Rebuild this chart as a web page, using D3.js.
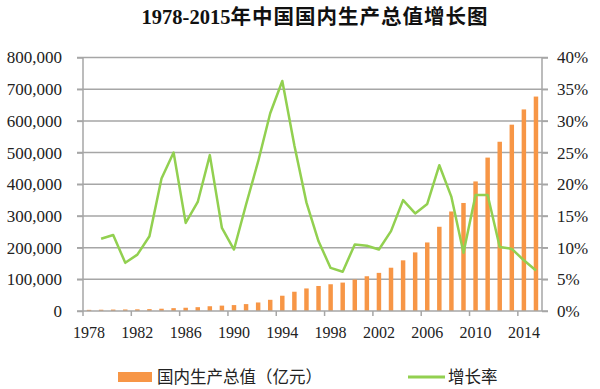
<!DOCTYPE html>
<html>
<head>
<meta charset="utf-8">
<script src="https://cdn.jsdelivr.net/npm/d3@7"></script>
<style>
  body { margin: 0; background: #fff; }
  svg { display: block; }
</style>
</head>
<body>
<svg id="chart" width="600" height="389"></svg>
<script>
// values
const years = d3.range(1978, 2016)
const gdp = [3645, 4063, 4546, 4892, 5323, 5963, 7208, 9016, 10275, 12059,
  15043, 16992, 18668, 21781, 26923, 35334, 48198, 60794, 71177, 78973,
  84402, 89677, 99215, 109655, 120333, 136565, 159878, 184937, 216314, 265810,
  314045, 340903, 408903, 484124, 534123, 588019, 636139, 676708]
const rateYears = d3.range(1979, 2016)
const rate = [11.4, 12.0, 7.6, 8.9, 11.8, 20.9, 25.0, 13.9, 17.2, 24.6,
  13.1, 9.7, 16.8, 23.6, 31.2, 36.3, 26.1, 17.1, 11.0, 6.8,
  6.2, 10.5, 10.3, 9.7, 12.6, 17.5, 15.4, 16.9, 23.0, 18.0,
  9.2, 18.3, 18.3, 10.1, 9.8, 8.0, 6.4]
const leftTicks = [0, 100000, 200000, 300000, 400000, 500000, 600000, 700000, 800000]
const rightTicks = [0, 5, 10, 15, 20, 25, 30, 35, 40]
const xLabelYears = [1978, 1982, 1986, 1990, 1994, 1998, 2002, 2006, 2010, 2014]
const title = ['1978-2015', '年中国国内生产总值增长图']
const legendNames = ['国内生产总值（亿元）', '增长率']

const orange = '#F79646', green = '#92D050', grid = '#a6a6a6'
const pLeft = 83, pRight = 542, pTop = 57.5, pBottom = 311

let svg = d3.select('#chart')

let x = d3.scaleBand().domain(years).range([pLeft, pRight]).padding(0)
let step = x.step()
let yL = d3.scaleLinear().domain([0, 800000]).range([pBottom, pTop])
let yR = d3.scaleLinear().domain([0, 40]).range([pBottom, pTop])

// title
let t = svg.append('text')
  .attr('x', 315).attr('y', 24)
  .attr('text-anchor', 'middle')
  .style('font-weight', 'bold')
  .style('fill', '#111')
t.append('tspan').text(title[0])
  .style('font-family', 'Liberation Serif').style('font-size', '20.5px')
t.append('tspan').text(title[1])
  .style('font-family', 'Noto Sans CJK SC').style('font-size', '20.5px')
  .style('letter-spacing', '1px')

// gridlines
svg.append('g').selectAll('line')
  .data(leftTicks.slice(1))
  .enter().append('line')
  .attr('x1', pLeft - 6).attr('x2', pRight + 6)
  .attr('y1', d => yL(d)).attr('y2', d => yL(d))
  .attr('stroke', grid).attr('stroke-width', 1.5)

// left axis
let axL = svg.append('g')
  .attr('transform', `translate(${pLeft},0)`)
  .call(d3.axisLeft(yL).tickValues(leftTicks).tickSize(6).tickFormat(d3.format(',')))
axL.select('.domain').remove()
axL.selectAll('.tick line').attr('stroke', grid).attr('stroke-width', 1.5)
axL.append('line').attr('y1', pTop).attr('y2', pBottom).attr('stroke', grid).attr('stroke-width', 1.5)
axL.selectAll('.tick text')
  .attr('x', -21)
  .style('font-family', 'Liberation Serif').style('font-size', '17px').style('fill', '#222')

// right axis
let axR = svg.append('g')
  .attr('transform', `translate(${pRight},0)`)
  .call(d3.axisRight(yR).tickValues(rightTicks).tickSize(6).tickFormat(d => d + '%'))
axR.select('.domain').remove()
axR.selectAll('.tick line').attr('stroke', grid).attr('stroke-width', 1.5)
axR.append('line').attr('y1', pTop).attr('y2', pBottom).attr('stroke', grid).attr('stroke-width', 1.5)
axR.selectAll('.tick text')
  .attr('x', 15)
  .style('font-family', 'Liberation Serif').style('font-size', '17px').style('fill', '#222')

// bars
let bw = step * 0.37
svg.append('g').selectAll('rect')
  .data(gdp)
  .enter().append('rect')
  .attr('x', (d, i) => x(years[i]) + (step - bw) / 2)
  .attr('width', bw)
  .attr('y', d => yL(d))
  .attr('height', d => pBottom - yL(d))
  .attr('fill', orange)

// x axis
svg.append('line')
  .attr('x1', pLeft - 6).attr('x2', pRight + 6)
  .attr('y1', pBottom).attr('y2', pBottom)
  .attr('stroke', grid).attr('stroke-width', 1.5)
svg.append('g').selectAll('line')
  .data(xLabelYears)
  .enter().append('line')
  .attr('x1', d => x(d)).attr('x2', d => x(d))
  .attr('y1', pBottom).attr('y2', pBottom + 5)
  .attr('stroke', grid).attr('stroke-width', 1.5)
svg.append('g').selectAll('text')
  .data(xLabelYears)
  .enter().append('text')
  .attr('x', d => x(d) + step / 2)
  .attr('y', 338)
  .attr('text-anchor', 'middle')
  .style('font-family', 'Liberation Serif').style('font-size', '16px').style('fill', '#222')
  .text(d => d)

// growth line
let line = d3.line()
  .x((d, i) => x(rateYears[i]) + step / 2)
  .y(d => yR(d))
svg.append('path')
  .datum(rate)
  .attr('d', line)
  .attr('fill', 'none')
  .attr('stroke', green)
  .attr('stroke-width', 2.5)
  .attr('stroke-linejoin', 'round')

// legend
let lg = svg.append('g')
lg.append('rect').attr('x', 118).attr('y', 372).attr('width', 34).attr('height', 10).attr('fill', orange)
lg.append('text').attr('x', 157).attr('y', 383)
  .style('font-family', 'Noto Sans CJK SC').style('font-size', '16.5px').style('fill', '#222')
  .text(legendNames[0])
lg.append('line').attr('x1', 408).attr('x2', 445).attr('y1', 377).attr('y2', 377)
  .attr('stroke', green).attr('stroke-width', 3)
lg.append('text').attr('x', 448).attr('y', 383)
  .style('font-family', 'Noto Sans CJK SC').style('font-size', '16.5px').style('fill', '#222')
  .text(legendNames[1])
</script>
</body>
</html>
